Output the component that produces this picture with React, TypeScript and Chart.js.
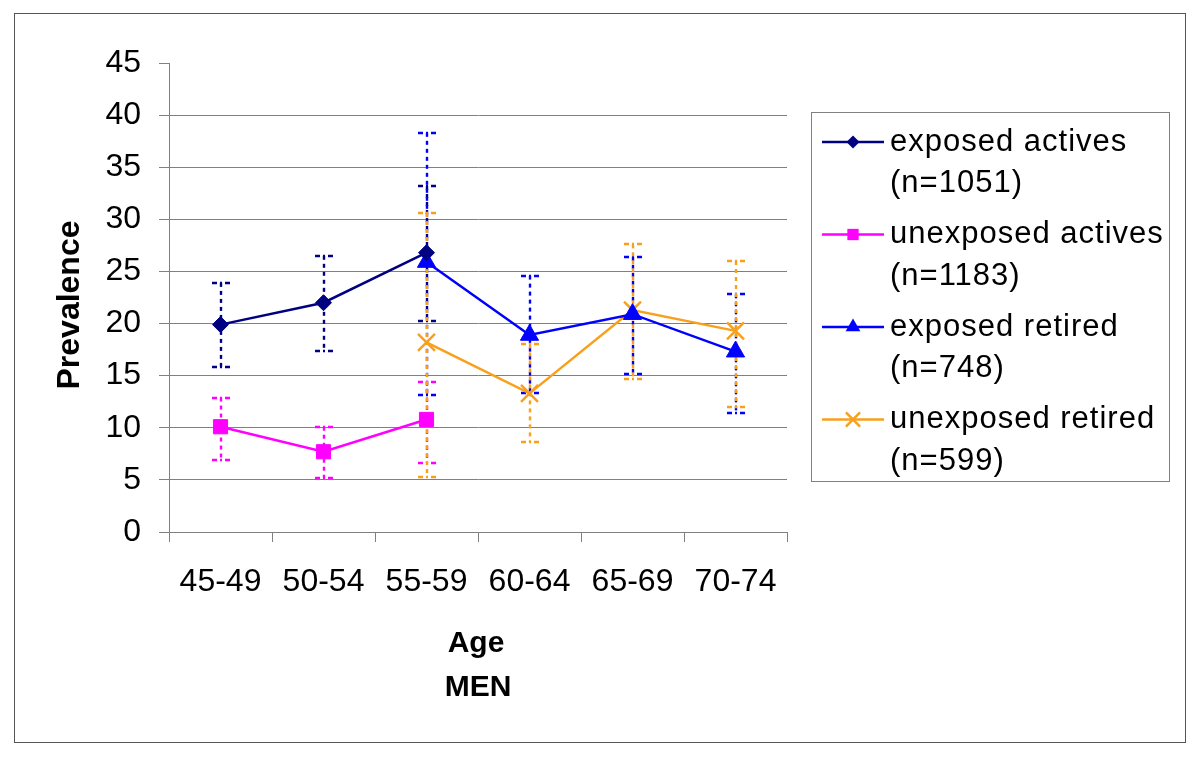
import React, { useEffect, useRef } from "react";
import { Chart, registerables } from "chart.js";

Chart.register(...registerables);

const categories = ["45-49", "50-54", "55-59", "60-64", "65-69", "70-74"];

const exposedActives = [19.9, 22.0, 26.8, null, null, null];
const exposedActivesLow = [15.8, 17.4, 20.2, null, null, null];
const exposedActivesHigh = [23.9, 26.5, 33.2, null, null, null];

const unexposedActives = [10.1, 7.7, 10.8, null, null, null];
const unexposedActivesLow = [6.9, 5.2, 6.6, null, null, null];
const unexposedActivesHigh = [12.9, 10.1, 14.4, null, null, null];

const exposedRetired = [null, null, 25.9, 18.9, 20.9, 17.3];
const exposedRetiredLow = [null, null, 13.1, 13.3, 15.2, 11.4];
const exposedRetiredHigh = [null, null, 38.3, 24.6, 26.4, 22.8];

const unexposedRetired = [null, null, 18.2, 13.3, 21.3, 19.3];
const unexposedRetiredLow = [null, null, 5.3, 8.6, 14.7, 12.0];
const unexposedRetiredHigh = [null, null, 30.6, 18.0, 27.6, 26.0];

const legendLines = [
  ["exposed actives", "(n=1051)"],
  ["unexposed actives", "(n=1183)"],
  ["exposed retired", "(n=748)"],
  ["unexposed retired", "(n=599)"],
];

const yTicks = [0, 5, 10, 15, 20, 25, 30, 35, 40, 45];

const FONT = "'Liberation Sans', Arial, Helvetica, sans-serif";
const NAVY = "#000080";
const MAGENTA = "#FF00FF";
const BLUE = "#0000FF";
const ORANGE = "#F9A01B";
const GRID = "#808080";

const series = [
  { label: legendLines[0].join(" "), data: exposedActives, low: exposedActivesLow, high: exposedActivesHigh, color: NAVY, style: "rectRot", r: 8, lr: 6.5 },
  { label: legendLines[1].join(" "), data: unexposedActives, low: unexposedActivesLow, high: unexposedActivesHigh, color: MAGENTA, style: "rect", r: 10, lr: 8 },
  { label: legendLines[2].join(" "), data: exposedRetired, low: exposedRetiredLow, high: exposedRetiredHigh, color: BLUE, style: "triangle", r: 10.5, lr: 8.5 },
  { label: legendLines[3].join(" "), data: unexposedRetired, low: unexposedRetiredLow, high: unexposedRetiredHigh, color: ORANGE, style: "crossRot", r: 12, lr: 10 },
];

const errorBarPlugin = {
  id: "errorBars",
  beforeDatasetsDraw(chart: any) {
    const ctx = chart.ctx;
    const xs = chart.scales.x;
    const ys = chart.scales.y;
    ctx.save();
    series.forEach((s) => {
      ctx.strokeStyle = s.color;
      ctx.lineWidth = 2.4;
      s.low.forEach((lo: any, i: number) => {
        const hi = s.high[i];
        if (lo == null || hi == null) return;
        const x = Math.round(xs.getPixelForValue(i));
        const yl = ys.getPixelForValue(lo);
        const yh = ys.getPixelForValue(hi);
        ctx.setLineDash([4, 4]);
        ctx.beginPath();
        ctx.moveTo(x, yh);
        ctx.lineTo(x, yl);
        ctx.stroke();
        ctx.setLineDash([5, 3, 2, 3]);
        [yl, yh].forEach((y) => {
          ctx.beginPath();
          ctx.moveTo(x - 9, Math.round(y));
          ctx.lineTo(x + 9, Math.round(y));
          ctx.stroke();
        });
      });
    });
    ctx.restore();
  },
};

function drawMarker(ctx: CanvasRenderingContext2D, style: string, x: number, y: number, r: number, color: string) {
  ctx.save();
  ctx.fillStyle = color;
  ctx.strokeStyle = color;
  ctx.setLineDash([]);
  ctx.beginPath();
  if (style === "rectRot") {
    ctx.moveTo(x - r, y);
    ctx.lineTo(x, y - r);
    ctx.lineTo(x + r, y);
    ctx.lineTo(x, y + r);
    ctx.closePath();
    ctx.fill();
  } else if (style === "rect") {
    const h = r * Math.SQRT1_2;
    ctx.rect(x - h, y - h, 2 * h, 2 * h);
    ctx.fill();
  } else if (style === "triangle") {
    ctx.moveTo(x, y - r);
    ctx.lineTo(x + r * 0.866, y + r * 0.5);
    ctx.lineTo(x - r * 0.866, y + r * 0.5);
    ctx.closePath();
    ctx.fill();
  } else if (style === "crossRot") {
    const d = r * Math.SQRT1_2;
    ctx.lineWidth = 2.5;
    ctx.moveTo(x - d, y - d);
    ctx.lineTo(x + d, y + d);
    ctx.moveTo(x + d, y - d);
    ctx.lineTo(x - d, y + d);
    ctx.stroke();
  }
  ctx.restore();
}

const decorPlugin = {
  id: "decor",
  afterDraw(chart: any) {
    const ctx: CanvasRenderingContext2D = chart.ctx;
    ctx.save();
    // outer border
    ctx.strokeStyle = "#555555";
    ctx.lineWidth = 1;
    ctx.strokeRect(14.5, 13.5, 1171, 729);

    // axis titles
    ctx.fillStyle = "#000";
    ctx.font = `bold 30px ${FONT}`;
    ctx.textAlign = "center";
    ctx.textBaseline = "alphabetic";
    ctx.fillText("Age", 476, 652);
    ctx.fillText("MEN", 478, 696);
    ctx.save();
    ctx.font = `bold 32px ${FONT}`;
    ctx.translate(79, 305);
    ctx.rotate(-Math.PI / 2);
    ctx.fillText("Prevalence", 0, 0);
    ctx.restore();

    // legend
    ctx.strokeStyle = GRID;
    ctx.lineWidth = 1;
    ctx.strokeRect(811.5, 112.5, 358, 369);
    ctx.font = `31px ${FONT}`;
    (ctx as any).letterSpacing = "1px";
    ctx.textAlign = "left";
    ctx.textBaseline = "middle";
    series.forEach((s, i) => {
      const y0 = 142 + i * 92.5;
      ctx.strokeStyle = s.color;
      ctx.lineWidth = 2.5;
      ctx.beginPath();
      ctx.moveTo(822, y0);
      ctx.lineTo(884, y0);
      ctx.stroke();
      drawMarker(ctx, s.style, 853, y0, s.lr, s.color);
      ctx.fillStyle = "#000";
      ctx.fillText(legendLines[i][0], 890, y0);
      ctx.fillText(legendLines[i][1], 890, y0 + 41.5);
    });
    ctx.restore();
  },
};

export default function App() {
  const ref = useRef<HTMLCanvasElement | null>(null);

  useEffect(() => {
    if (!ref.current) return;
    const chart = new Chart(ref.current, {
      type: "line",
      data: {
        labels: categories,
        datasets: series.map((s) => ({
          label: s.label,
          data: s.data as any,
          borderColor: s.color,
          backgroundColor: s.color,
          borderWidth: 2.5,
          pointStyle: s.style as any,
          pointRadius: s.r,
          pointBorderWidth: s.style === "crossRot" ? 2.5 : 1,
          pointBackgroundColor: s.color,
          pointBorderColor: s.color,
          tension: 0,
          fill: false,
        })),
      },
      options: {
        responsive: false,
        animation: false,
        layout: { padding: { left: 0, top: 63, right: 413, bottom: 0 } },
        plugins: {
          legend: { display: false },
          tooltip: { enabled: false },
        },
        scales: {
          x: {
            type: "category",
            offset: true,
            afterFit: (scale: any) => {
              scale.height = 225;
            },
            grid: {
              display: true,
              drawOnChartArea: false,
              drawTicks: true,
              offset: true,
              tickLength: 10,
              color: GRID,
            },
            border: { display: true, color: GRID, width: 1 },
            ticks: {
              color: "#000",
              font: { family: FONT, size: 32 },
              padding: 21,
              maxRotation: 0,
              autoSkip: false,
            },
          },
          y: {
            min: 0,
            max: 45,
            afterFit: (scale: any) => {
              scale.width = 169;
            },
            afterBuildTicks: (scale: any) => {
              scale.ticks = yTicks.map((v) => ({ value: v }));
            },
            grid: {
              color: (c: any) => (c.tick && c.tick.value === 45 ? "rgba(0,0,0,0)" : GRID),
              tickColor: GRID,
              tickLength: 10,
              drawTicks: true,
            },
            border: { display: true, color: GRID, width: 1 },
            ticks: {
              color: "#000",
              font: { family: FONT, size: 32 },
              padding: 18,
            },
          },
        },
      },
      plugins: [errorBarPlugin, decorPlugin],
    });
    return () => chart.destroy();
  }, []);

  return (
    <div style={{ position: "absolute", left: 0, top: 0, width: 1200, height: 757, background: "#fff" }}>
      <canvas ref={ref} width={1200} height={757} style={{ display: "block" }} />
    </div>
  );
}
